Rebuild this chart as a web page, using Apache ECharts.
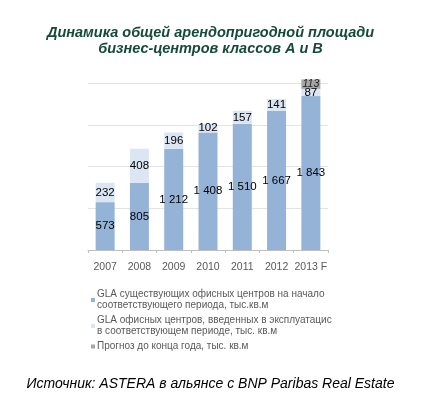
<!DOCTYPE html>
<html>
<head>
<meta charset="utf-8">
<script src="https://cdn.jsdelivr.net/npm/echarts@6/dist/echarts.min.js"></script>
<style>
html,body{margin:0;padding:0;background:#fff;}
#main{width:421px;height:399px;}
</style>
</head>
<body>
<div id="main"></div>
<script>
var years = ['2007', '2008', '2009', '2010', '2011', '2012', '2013 F'];
var existing = [573, 805, 1212, 1408, 1510, 1667, 1843];   // GLA на начало периода
var added = [232, 408, 196, 102, 157, 141, 87];             // введено в периоде
var forecast = ['-', '-', '-', '-', '-', '-', 113];         // прогноз до конца года
var legendNames = [
    'GLA существующих офисных центров на начало\nсоответствующего периода, тыс.кв.м',
    'GLA офисных центров, введенных в эксплуатацис\nв соответствующем периоде, тыс. кв.м',
    'Прогноз до конца года, тыс. кв.м'
];

function fmt(v) {
    // пробел как разделитель тысяч
    return String(v).replace(/\B(?=(\d{3})+(?!\d))/g, ' ');
}

var myChart = echarts.init(document.getElementById('main'));
var labelStyle = {
    show: true,
    position: 'inside',
    color: '#000',
    fontFamily: 'Liberation Sans',
    fontSize: 11.5,
    formatter: function (p) { return fmt(p.value); }
};
myChart.setOption({
    animation: false,
    title: [{
        text: 'Динамика общей арендопригодной площади\nбизнес-центров классов А и В',
        left: 'center',
        top: 20,
        textStyle: {
            color: '#154a3a',
            fontFamily: 'Liberation Sans',
            fontStyle: 'italic',
            fontWeight: 'bold',
            fontSize: 14.5,
            lineHeight: 16
        }
    }, {
        text: 'Источник: ASTERA в альянсе с BNP Paribas Real Estate',
        left: 'center',
        top: 372,
        textStyle: {
            color: '#000',
            fontFamily: 'Liberation Sans',
            fontStyle: 'italic',
            fontWeight: 'normal',
            fontSize: 14
        }
    }],
    legend: {
        orient: 'vertical',
        left: 86,
        top: 284,
        itemWidth: 4,
        itemHeight: 4,
        itemGap: 4,
        icon: 'rect',
        data: legendNames,
        textStyle: {
            color: '#595959',
            fontFamily: 'Liberation Sans',
            fontSize: 10,
            lineHeight: 11,
            padding: [0, 0, 0, -3]
        }
    },
    grid: {
        left: 88,
        right: 93,
        top: 83,
        bottom: 149
    },
    xAxis: {
        type: 'category',
        data: years,
        axisLine: { lineStyle: { color: '#bfbfbf' } },
        axisTick: { show: true, length: 3, lineStyle: { color: '#bfbfbf' } },
        axisLabel: {
            interval: 0,
            color: '#595959',
            fontFamily: 'Liberation Sans',
            fontSize: 10.5,
            margin: 12
        }
    },
    yAxis: {
        type: 'value',
        min: 0,
        max: 2000,
        interval: 500,
        axisLabel: { show: false },
        axisLine: { show: false },
        axisTick: { show: false },
        splitLine: { lineStyle: { color: '#e3e3e3' } }
    },
    series: [{
        name: legendNames[0],
        type: 'bar',
        stack: 'gla',
        data: existing,
        barWidth: 19,
        clip: false,
        itemStyle: { color: '#95b3d7' },
        label: labelStyle
    }, {
        name: legendNames[1],
        type: 'bar',
        stack: 'gla',
        data: added,
        clip: false,
        itemStyle: { color: '#dce6f2' },
        label: labelStyle
    }, {
        name: legendNames[2],
        type: 'bar',
        stack: 'gla',
        data: forecast,
        clip: false,
        itemStyle: { color: '#a6a6a6' },
        label: {
            show: true,
            position: 'inside',
            color: '#222',
            fontFamily: 'Liberation Sans',
            fontStyle: 'italic',
            fontSize: 10.5
        }
    }]
});
</script>
</body>
</html>
